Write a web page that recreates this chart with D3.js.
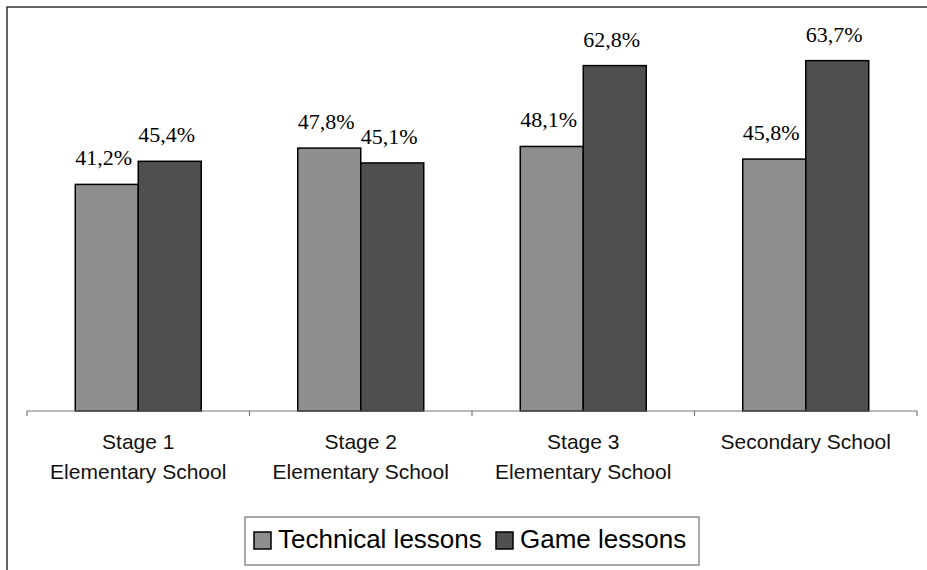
<!DOCTYPE html>
<html>
<head>
<meta charset="utf-8">
<script src="https://cdn.jsdelivr.net/npm/d3@7/dist/d3.min.js"></script>
<style>
  body { margin: 0; background: #fff; }
</style>
</head>
<body>
<div id="chart"></div>
<script>
const categories = [
  ['Stage 1', 'Elementary School'],
  ['Stage 2', 'Elementary School'],
  ['Stage 3', 'Elementary School'],
  ['Secondary School']
]
const technical = [41.2, 47.8, 48.1, 45.8]
const game = [45.4, 45.1, 62.8, 63.7]
const seriesNames = ['Technical lessons', 'Game lessons']
const seriesColors = ['#8e8e8e', '#4f4f4f']

const W = 927
const H = 570
const plot = { left: 27, right: 917, top: 26, bottom: 411 }

const svg = d3
  .select('#chart')
  .append('svg')
  .attr('width', W)
  .attr('height', H)

// outer frame, cut off by the page edges on right and bottom
svg
  .append('rect')
  .attr('x', 7)
  .attr('y', 7)
  .attr('width', 1000)
  .attr('height', 700)
  .attr('fill', 'none')
  .attr('stroke', '#333')
  .attr('stroke-width', 1.5)

const keys = categories.map((d, i) => i)

const xPositionScale = d3
  .scaleBand()
  .domain(keys)
  .range([plot.left, plot.right])
  .paddingInner(0)
  .paddingOuter(0)

const innerScale = d3
  .scaleBand()
  .domain([0, 1])
  .range([0, xPositionScale.bandwidth()])
  .paddingInner(0)
  .paddingOuter(0.766)

const yPositionScale = d3
  .scaleLinear()
  .domain([0, 70])
  .range([plot.bottom, plot.top])

const rows = []
keys.forEach(k => {
  rows.push({ cat: k, s: 0, value: technical[k] })
  rows.push({ cat: k, s: 1, value: game[k] })
})

svg
  .selectAll('.bar')
  .data(rows)
  .enter()
  .append('rect')
  .attr('class', 'bar')
  .attr('x', d => xPositionScale(d.cat) + innerScale(d.s))
  .attr('y', d => yPositionScale(d.value))
  .attr('width', innerScale.bandwidth())
  .attr('height', d => plot.bottom - yPositionScale(d.value))
  .attr('fill', d => seriesColors[d.s])
  .attr('stroke', '#000')
  .attr('stroke-width', 1.5)

svg
  .selectAll('.value-label')
  .data(rows)
  .enter()
  .append('text')
  .attr('class', 'value-label')
  .attr('x', d => xPositionScale(d.cat) + innerScale(d.s) + innerScale.bandwidth() / 2 - 3)
  .attr('y', d => yPositionScale(d.value) - 19)
  .attr('text-anchor', 'middle')
  .attr('font-family', '"Liberation Serif", "Times New Roman", serif')
  .attr('font-size', 22)
  .attr('fill', '#000')
  .text(d => d.value.toFixed(1).replace('.', ',') + '%')

// category axis
const axis = svg.append('g').attr('class', 'x-axis')
axis
  .append('line')
  .attr('x1', plot.left)
  .attr('x2', plot.right)
  .attr('y1', plot.bottom)
  .attr('y2', plot.bottom)
  .attr('stroke', '#777')
  .attr('stroke-width', 1.2)

const tickXs = keys.map(k => xPositionScale(k)).concat([plot.right])
axis
  .selectAll('.tick')
  .data(tickXs)
  .enter()
  .append('line')
  .attr('x1', d => d)
  .attr('x2', d => d)
  .attr('y1', plot.bottom)
  .attr('y2', plot.bottom + 5)
  .attr('stroke', '#777')
  .attr('stroke-width', 1.2)

const catLabels = axis
  .selectAll('.cat-label')
  .data(keys)
  .enter()
  .append('text')
  .attr('class', 'cat-label')
  .attr('text-anchor', 'middle')
  .attr('font-family', '"Liberation Sans", Arial, sans-serif')
  .attr('font-size', 21)
  .attr('fill', '#111')

catLabels
  .selectAll('tspan')
  .data(k => categories[k].map(t => ({ k, t })))
  .enter()
  .append('tspan')
  .attr('x', d => xPositionScale(d.k) + xPositionScale.bandwidth() / 2)
  .attr('y', (d, i) => 449 + i * 30)
  .text(d => d.t)

// legend
const legend = svg.append('g').attr('class', 'legend')
legend
  .append('rect')
  .attr('x', 245)
  .attr('y', 517)
  .attr('width', 454)
  .attr('height', 48)
  .attr('fill', '#fff')
  .attr('stroke', '#555')
  .attr('stroke-width', 1)

const legendX = [254, 496]
seriesNames.forEach((name, i) => {
  legend
    .append('rect')
    .attr('x', legendX[i])
    .attr('y', 532)
    .attr('width', 17)
    .attr('height', 17)
    .attr('fill', seriesColors[i])
    .attr('stroke', '#000')
    .attr('stroke-width', 1.5)
  legend
    .append('text')
    .attr('x', legendX[i] + 24)
    .attr('y', 548)
    .attr('font-family', '"Liberation Sans", Arial, sans-serif')
    .attr('font-size', 26)
    .attr('fill', '#000')
    .text(name)
})
</script>
</body>
</html>
